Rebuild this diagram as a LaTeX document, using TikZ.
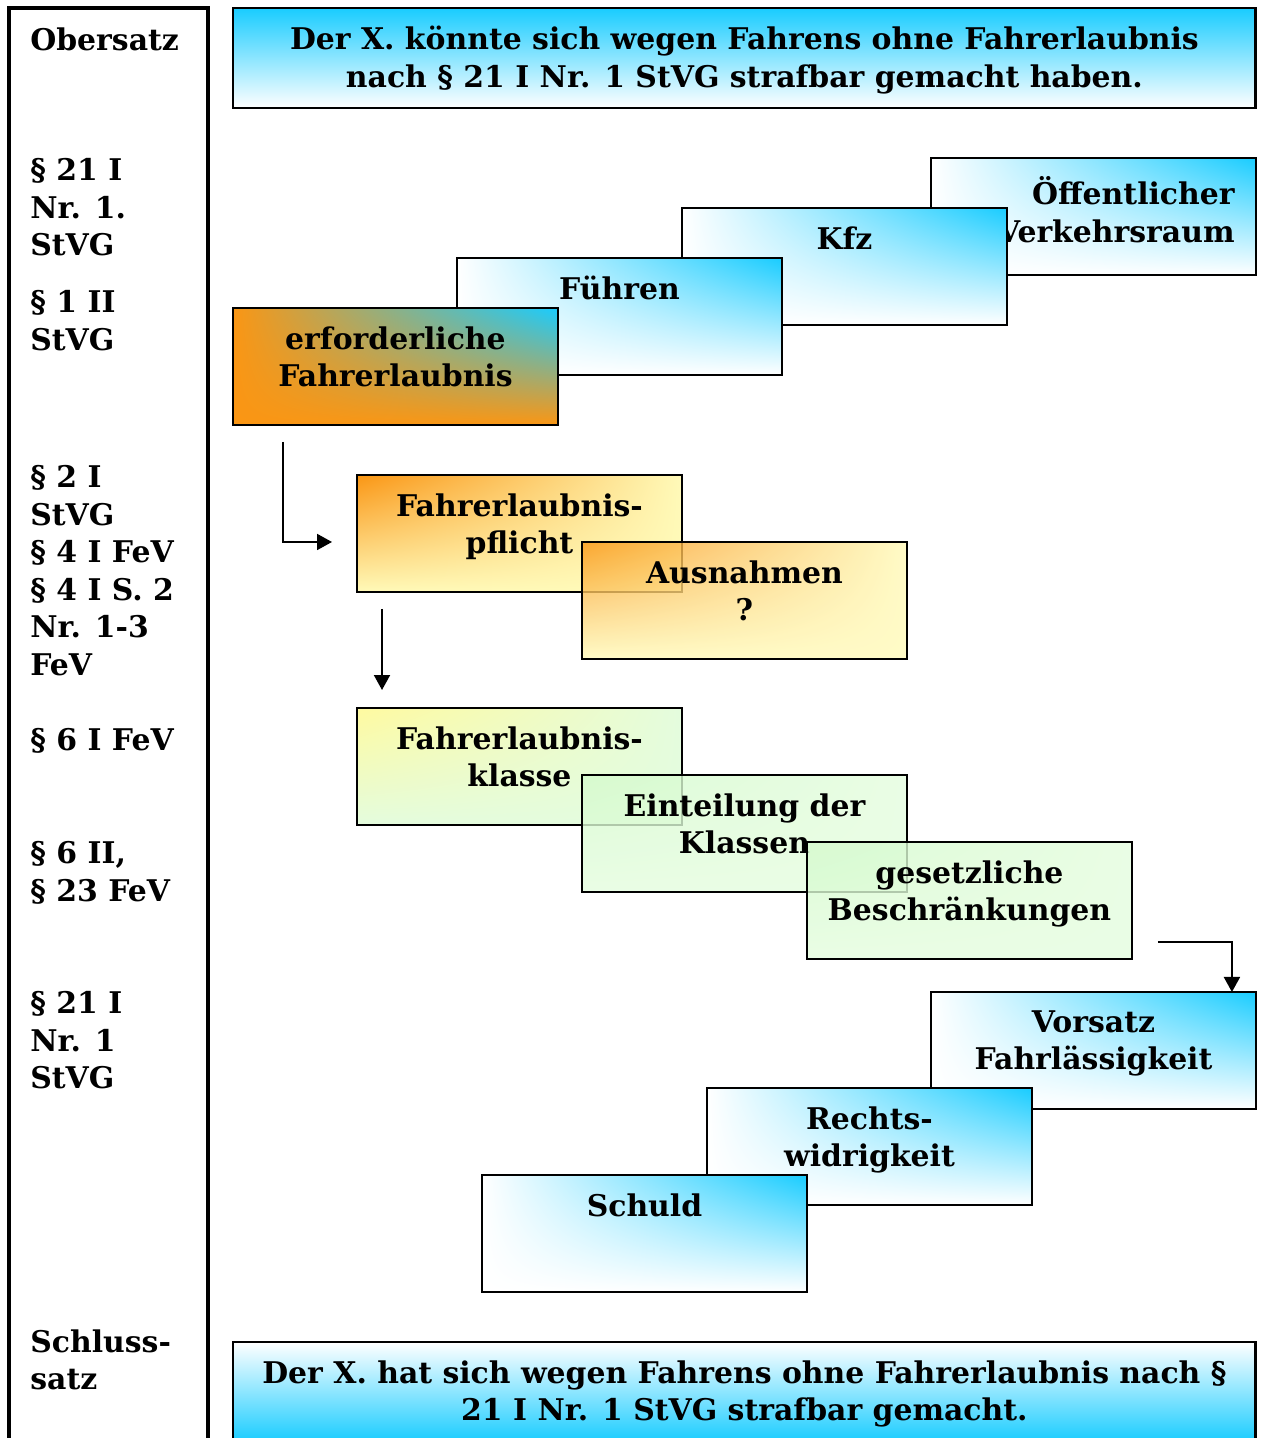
\documentclass[tikz,border=0pt]{standalone}
\usepackage{fontspec}
\setmainfont{DejaVu Serif}
\usetikzlibrary{positioning,calc,arrows.meta,shadings}

\definecolor{himmel}{RGB}{25,204,255}
\definecolor{orangegelb}{RGB}{250,150,20}
\definecolor{hellgelb}{RGB}{255,250,185}
\definecolor{zitron}{RGB}{255,250,160}
\definecolor{hellgruen}{RGB}{228,252,222}
\definecolor{gruen}{RGB}{212,250,204}

\tikzset{
  schrift/.style={font=\fontsize{17}{21.4}\selectfont\bfseries},
  kasten/.style={draw, line width=1.5pt, inner sep=0pt, outer sep=0pt,
    anchor=north west, minimum width=6.5cm, minimum height=2.34cm},
  blaustufe/.style={kasten, upper left=white, lower left=white,
    upper right=himmel, lower right=white},
  gelbstufe/.style={kasten, upper left=orangegelb, upper right=hellgelb,
    lower left=hellgelb, lower right=hellgelb},
  gruenstufe/.style={kasten, upper left=gruen, upper right=hellgruen,
    lower left=hellgruen, lower right=hellgruen},
  durchsicht/.style={fill opacity=0.8, text opacity=1},
  beschr/.style={schrift, align=center, anchor=north, inner sep=0pt},
  norm/.style={schrift, align=left, anchor=north west, inner sep=0pt},
  pfeil/.style={line width=1.1pt, -{Triangle[length=0.3cm,width=0.32cm]}},
}

\begin{document}
\begin{tikzpicture}[x=0.02cm, y=-0.02cm]
  \clip (0,0) rectangle (1264,1438);

  % linke Spalte
  \draw[line width=1.8pt] (9,1470) -- (9,8) -- (208,8) -- (208,1470);
  \foreach \t/\y [count=\i] in {{Obersatz}/27,
      {§ 21 I\\Nr. 1.\\StVG}/158,
      {§ 1 II\\StVG}/290,
      {§ 2 I\\StVG\\§ 4 I FeV\\§ 4 I S. 2\\Nr. 1-3\\FeV}/465,
      {§ 6 I FeV}/728,
      {§ 6 II,\\§ 23 FeV}/841,
      {§ 21 I\\Nr. 1\\StVG}/991,
      {Schluss-\\satz}/1329}
    \node[norm] (norm\i) at (30,\y) {\t};

  % Obersatz
  \node[kasten, minimum width=20.46cm, minimum height=2cm,
    top color=himmel, bottom color=white] (ober) at (233,8) {};
  \node[beschr] (ober-t) at ($(ober.north)+(0,18)$)
    {Der X. könnte sich wegen Fahrens ohne Fahrerlaubnis\\nach § 21 I Nr. 1 StVG strafbar gemacht haben.};

  % Tatbestand
  \node[blaustufe] (oeff) at (931,158) {};
  \node[beschr, align=right, anchor=north east] (oeff-t) at ($(oeff.north east)+(-21,18)$)
    {Öffentlicher\\Verkehrsraum};
  \foreach \n/\x/\y/\t in {kfz/682/208/Kfz, fuehren/457/258/Führen} {
    \node[blaustufe] (\n) at (\x,\y) {};
    \node[beschr] (\n-t) at ($(\n.north)+(0,18)$) {\t};
  }
  \node[kasten, upper left=orangegelb, lower left=orangegelb,
    upper right=himmel, lower right=orangegelb] (erf) at (233,308) {};
  \node[beschr] (erf-t) at ($(erf.north)+(0,18)$) {erforderliche\\Fahrerlaubnis};

  \node[gelbstufe] (pflicht) at (357,475) {};
  \node[beschr] (pflicht-t) at ($(pflicht.north)+(0,18)$) {Fahrerlaubnis-\\pflicht};
  \node[gelbstufe, durchsicht] (ausnahmen) at (582,542) {};
  \node[beschr] (ausnahmen-t) at ($(ausnahmen.north)+(0,18)$) {Ausnahmen\\?};

  \node[gruenstufe, upper left=zitron] (klasse) at (357,708) {};
  \node[beschr] (klasse-t) at ($(klasse.north)+(0,18)$) {Fahrerlaubnis-\\klasse};
  \node[gruenstufe, durchsicht] (einteilung) at (582,775) {};
  \node[beschr] (einteilung-t) at ($(einteilung.north)+(0,18)$) {Einteilung der\\Klassen};
  \node[gruenstufe, durchsicht] (gesetz) at (807,842) {};
  \node[beschr] (gesetz-t) at ($(gesetz.north)+(0,18)$) {gesetzliche\\Beschränkungen};

  \draw[pfeil] ($(erf.south west)+(50,17)$) |- ($(pflicht.south west)+(-25,-50)$);
  \draw[pfeil] ($(pflicht.south west)+(25,17)$) -- ($(klasse.north west)+(25,-18)$);
  \draw[pfeil] ($(gesetz.south east)+(26,-17)$) -| ($(gesetz.south east)+(100,33)$);

  % Subjektiver Tatbestand, RW, Schuld
  \foreach \n/\x/\y/\t in {vorsatz/931/992/{Vorsatz\\Fahrlässigkeit},
      rw/707/1088/{Rechts-\\widrigkeit}, schuld/482/1175/Schuld} {
    \node[blaustufe] (\n) at (\x,\y) {};
    \node[beschr] (\n-t) at ($(\n.north)+(0,18)$) {\t};
  }

  % Schlusssatz
  \node[kasten, minimum width=20.46cm, minimum height=2cm,
    top color=white, bottom color=himmel] (schluss) at (233,1342) {};
  \node[beschr] (schluss-t) at ($(schluss.north)+(0,18)$)
    {Der X. hat sich wegen Fahrens ohne Fahrerlaubnis nach §\\21 I Nr. 1 StVG strafbar gemacht.};
\end{tikzpicture}
\end{document}
